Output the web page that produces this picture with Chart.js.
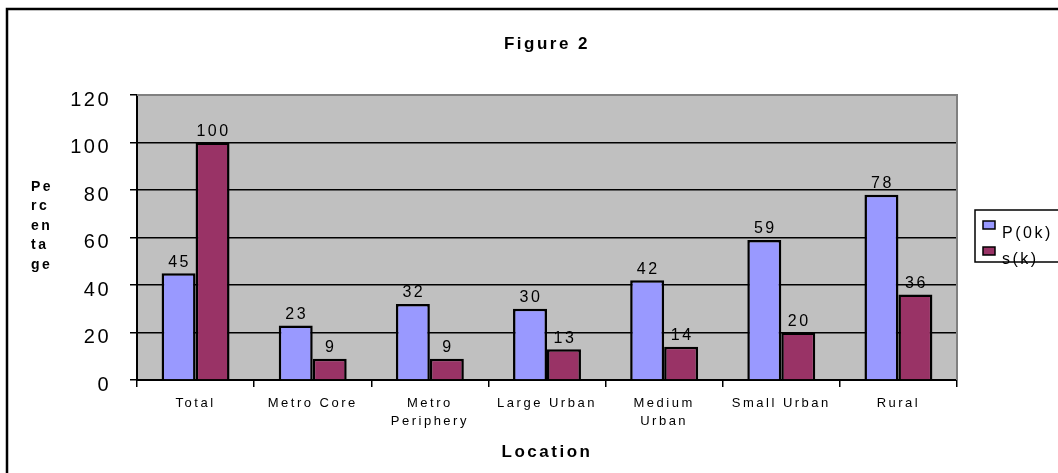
<!DOCTYPE html>
<html lang="en">

<head>
    <meta charset="UTF-8">
    <title>Figure 2</title>
    <script src="https://cdn.jsdelivr.net/npm/chart.js"></script>
    <style>
        html, body { margin: 0; padding: 0; background: #fff; }
        #wrap { width: 1058px; height: 473px; }
    </style>
</head>

<body>
    <div id="wrap"><canvas id="fig2"></canvas></div>

    <script>
        // data
        const locations = ['Total', 'Metro Core', ['Metro', 'Periphery'], 'Large Urban', ['Medium', 'Urban'], 'Small Urban', 'Rural'];
        const p0k = [45, 23, 32, 30, 42, 59, 78];
        const sk = [100, 9, 9, 13, 14, 20, 36];
        const yTitleLines = ['Pe', 'rc', 'en', 'ta', 'ge'];

        const FONT = "'Liberation Sans', Arial, sans-serif";

        const decor = {
            id: 'decor',
            beforeDraw(chart) {
                const { ctx, chartArea: a } = chart;
                ctx.letterSpacing = '2.5px';
                ctx.save();
                ctx.fillStyle = '#c0c0c0';
                ctx.fillRect(a.left, a.top, a.right - a.left, a.bottom - a.top);
                ctx.restore();
            },
            afterDatasetsDraw(chart) {
                const ctx = chart.ctx;
                ctx.save();
                ctx.font = '16px ' + FONT;
                ctx.fillStyle = '#000';
                ctx.textAlign = 'center';
                ctx.textBaseline = 'bottom';
                chart.data.datasets.forEach((ds, i) => {
                    chart.getDatasetMeta(i).data.forEach((bar, j) => {
                        ctx.fillText(String(ds.data[j]), bar.x + 1, bar.y - 3);
                    });
                });
                ctx.restore();
            },
            afterDraw(chart) {
                const { ctx, chartArea: a } = chart;
                ctx.save();
                // grey frame of plot area (top and right)
                ctx.strokeStyle = '#808080';
                ctx.lineWidth = 2;
                ctx.beginPath();
                ctx.moveTo(a.left, a.top);
                ctx.lineTo(a.right, a.top);
                ctx.lineTo(a.right, a.bottom);
                ctx.stroke();

                // outer frame
                ctx.strokeStyle = '#000';
                ctx.lineWidth = 2.5;
                ctx.beginPath();
                ctx.moveTo(7, chart.height);
                ctx.lineTo(7, 9);
                ctx.lineTo(chart.width, 9);
                ctx.stroke();

                // y title, stacked
                ctx.fillStyle = '#000';
                ctx.font = 'bold 14px ' + FONT;
                ctx.textAlign = 'left';
                ctx.textBaseline = 'middle';
                yTitleLines.forEach((t, i) => ctx.fillText(t, 31, 187 + i * 19.5));

                // legend
                ctx.lineWidth = 1.5;
                ctx.strokeRect(975, 210, 100, 52);
                ctx.font = '16px ' + FONT;
                ctx.textBaseline = 'alphabetic';
                chart.data.datasets.forEach((ds, i) => {
                    const y = 221 + i * 26;
                    ctx.fillStyle = ds.backgroundColor;
                    ctx.fillRect(983, y, 12, 8);
                    ctx.lineWidth = 1.5;
                    ctx.strokeRect(983, y, 12, 8);
                    ctx.fillStyle = '#000';
                    ctx.fillText(ds.label, 1002, y + 17);
                });
                ctx.restore();
            }
        };

        const ctx = document.getElementById('fig2').getContext('2d');
        new Chart(ctx, {
            type: 'bar',
            data: {
                labels: locations,
                datasets: [{
                    label: 'P(0k)',
                    data: p0k,
                    backgroundColor: '#9999ff',
                    borderColor: '#000',
                    borderWidth: 2.5
                }, {
                    label: 's(k)',
                    data: sk,
                    backgroundColor: '#993366',
                    borderColor: '#000',
                    borderWidth: 2.5
                }]
            },
            options: {
                responsive: true,
                maintainAspectRatio: false,
                animation: false,
                layout: { padding: { left: 0, right: 101, top: 0, bottom: 0 } },
                datasets: { bar: { categoryPercentage: 0.58, barPercentage: 1 } },
                plugins: {
                    legend: { display: false },
                    tooltip: { enabled: false },
                    title: {
                        display: true,
                        text: 'Figure 2',
                        fullSize: false,
                        color: '#000',
                        font: { family: FONT, size: 17, weight: 'bold' },
                        padding: { top: 34, bottom: 40.6 }
                    }
                },
                scales: {
                    x: {
                        afterFit(s) { s.height = 93; },
                        grid: { drawOnChartArea: false, color: '#000', lineWidth: 1.5, tickLength: 7 },
                        border: { color: '#000', width: 2 },
                        ticks: {
                            color: '#000',
                            maxRotation: 0,
                            autoSkip: false,
                            padding: 7,
                            font: { family: FONT, size: 13, lineHeight: 1.4 }
                        },
                        title: {
                            display: true,
                            text: 'Location',
                            color: '#000',
                            font: { family: FONT, size: 17, weight: 'bold' },
                            padding: { top: 0, bottom: 10 }
                        }
                    },
                    y: {
                        min: 0,
                        max: 120,
                        afterFit(s) { s.width = 137; },
                        grid: { color: '#000', lineWidth: 1.5, tickLength: 7 },
                        border: { color: '#000', width: 2 },
                        ticks: {
                            stepSize: 20,
                            color: '#000',
                            padding: 19,
                            labelOffset: 5,
                            font: { family: FONT, size: 20 }
                        }
                    }
                }
            },
            plugins: [decor]
        });
    </script>
</body>

</html>
